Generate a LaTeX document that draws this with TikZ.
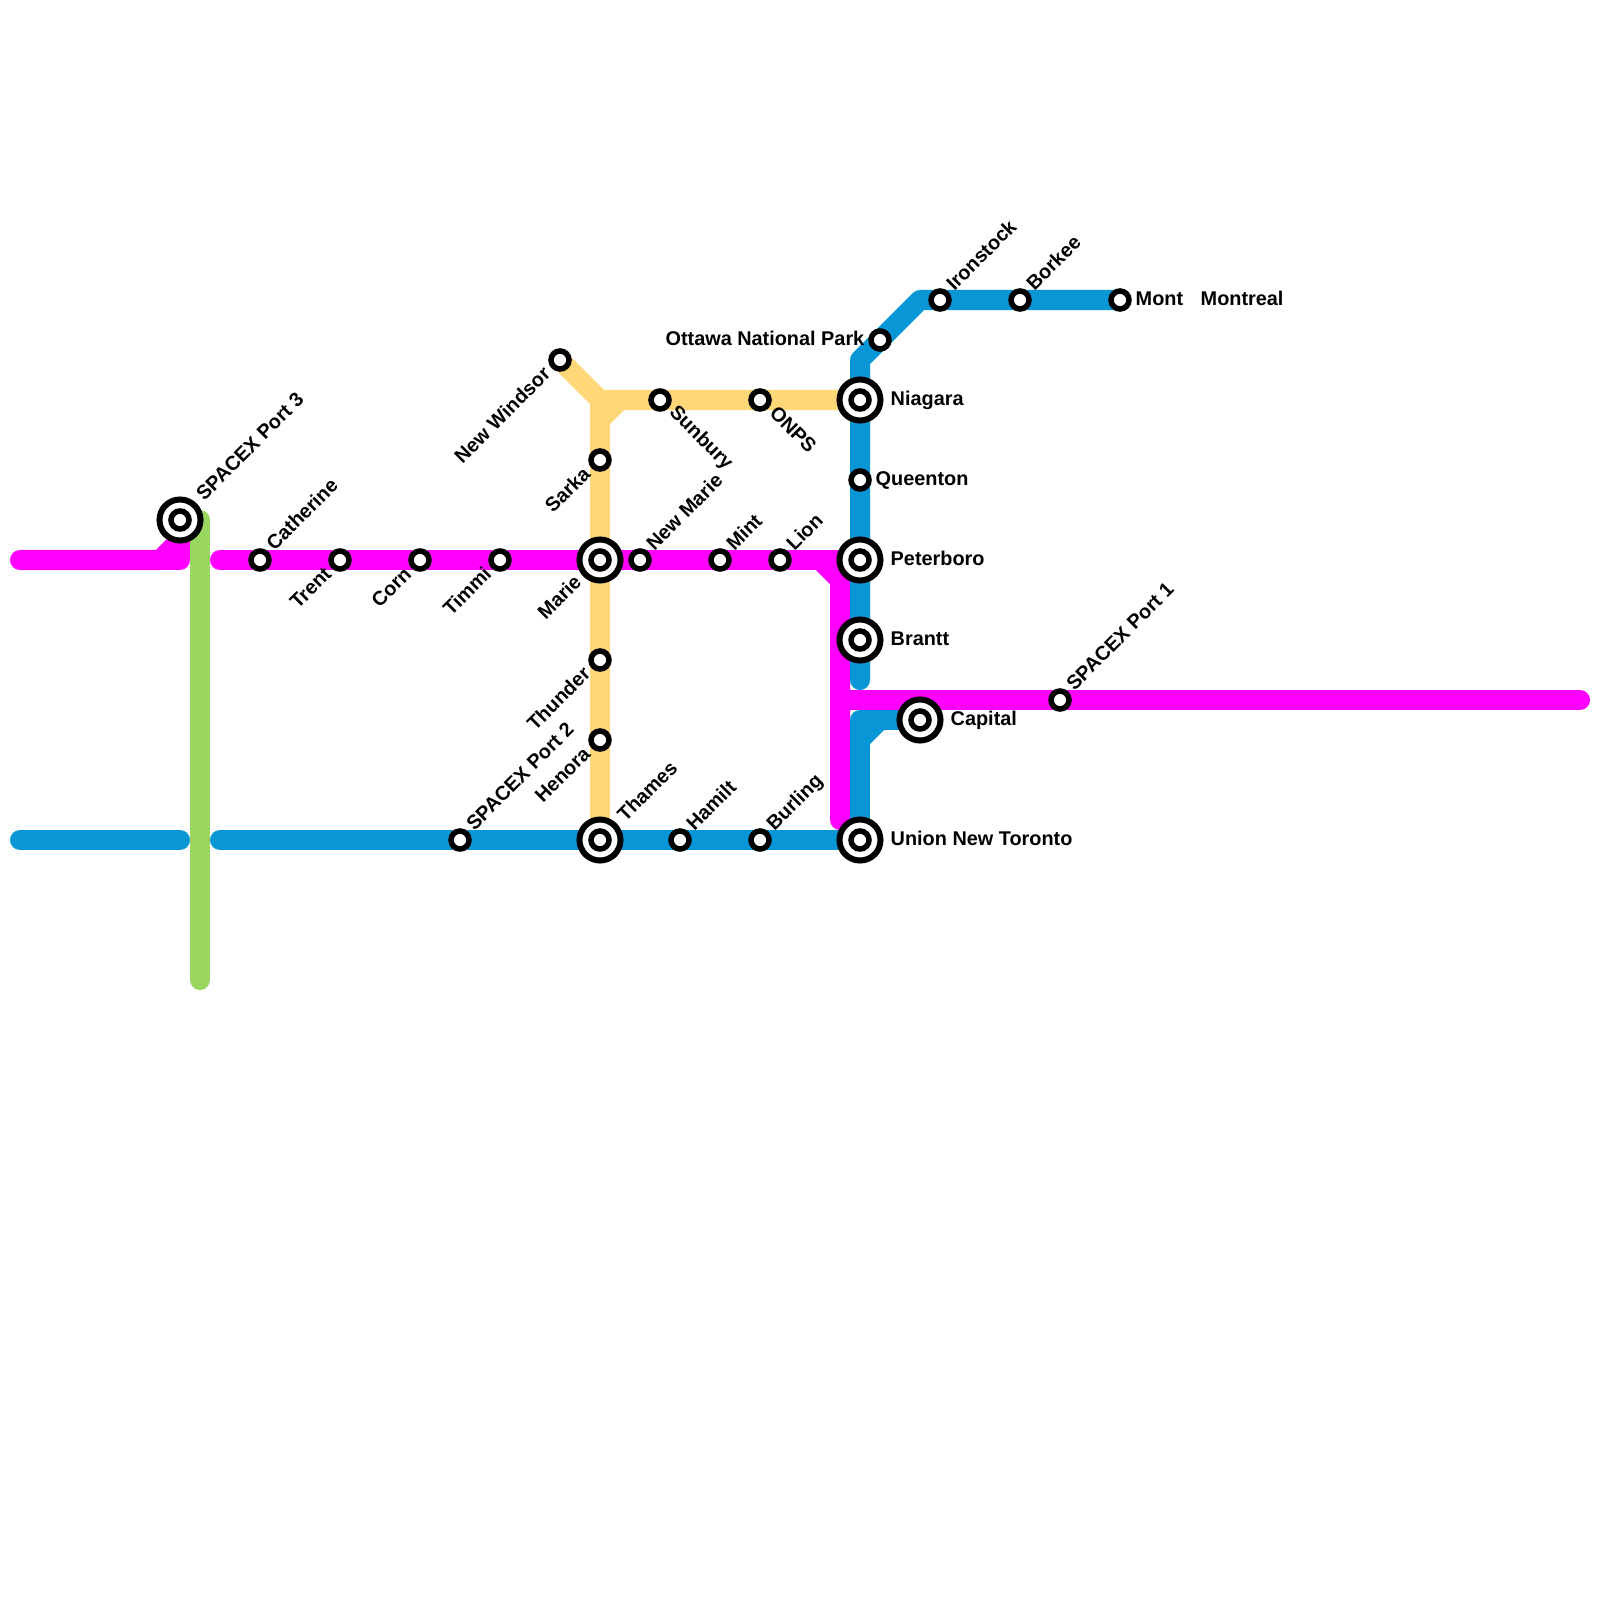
\documentclass[tikz,border=0pt]{standalone}
\usepackage{fontspec}
\setmainfont{Liberation Sans}
\usetikzlibrary{backgrounds}
\definecolor{linemag}{HTML}{FF00FF}
\definecolor{lineblue}{HTML}{0896D7}
\definecolor{lineyel}{HTML}{FFD778}
\definecolor{linegrn}{HTML}{99D65F}
\begin{document}
\begin{tikzpicture}[x=0.01cm, y=-0.01cm,
    font=\bfseries\fontsize{5.65}{7}\selectfont,
    track/.style={line width=0.2cm, line cap=round, line join=round},
    stn/.style={draw, circle, fill=white, line width=0.055cm, minimum size=0.18cm, inner sep=0pt},
    hub/.style={draw, circle, fill=white, line width=0.06cm, minimum size=0.41cm, inner sep=0pt,
        path picture={\draw[line width=0.055cm] (path picture bounding box.center) circle (0.09cm);}},
    lblne/.style={rotate=45, anchor=base west, inner sep=0pt},
    lblsw/.style={rotate=45, anchor=base east, inner sep=0pt},
    lblse/.style={rotate=-45, anchor=base west, inner sep=0pt},
    lble/.style={anchor=base west, inner sep=0pt},
    lblw/.style={anchor=base east, inner sep=0pt}]
\useasboundingbox (0,0) rectangle (1600,1600);

\node[hub] (port3) at (180,520) {};
\node[stn] (catherine) at (260,560) {};
\node[stn] (trent) at (340,560) {};
\node[stn] (corn) at (420,560) {};
\node[stn] (timmi) at (500,560) {};
\node[hub] (marie) at (600,560) {};
\node[stn] (newmarie) at (640,560) {};
\node[stn] (mint) at (720,560) {};
\node[stn] (lion) at (780,560) {};
\node[hub] (peterboro) at (860,560) {};
\node[hub] (brantt) at (860,640) {};
\node[hub] (capital) at (920,720) {};
\node[stn] (port1) at (1060,700) {};
\node[hub] (union) at (860,840) {};
\node[stn] (burling) at (760,840) {};
\node[stn] (hamilt) at (680,840) {};
\node[hub] (thames) at (600,840) {};
\node[stn] (port2) at (460,840) {};
\node[stn] (henora) at (600,740) {};
\node[stn] (thunder) at (600,660) {};
\node[stn] (sarka) at (600,460) {};
\node[stn] (windsor) at (560,360) {};
\node[stn] (sunbury) at (660,400) {};
\node[stn] (onps) at (760,400) {};
\node[hub] (niagara) at (860,400) {};
\node[stn] (queenton) at (860,480) {};
\node[stn] (ottawa) at (880,340) {};
\node[stn] (ironstock) at (940,300) {};
\node[stn] (borkee) at (1020,300) {};
\node[stn] (mont) at (1120,300) {};

\node[lblne] (port3-l) at (204,502) {SPACEX Port 3};
\node[lblne] (catherine-l) at (274,552) {Catherine};
\node[lblsw] (trent-l) at (333,575) {Trent};
\node[lblsw] (corn-l) at (413,575) {Corn};
\node[lblsw] (timmi-l) at (493,575) {Timmi};
\node[lblsw] (marie-l) at (583,583) {Marie};
\node[lblne] (newmarie-l) at (654,552) {New Marie};
\node[lblne] (mint-l) at (734,552) {Mint};
\node[lblne] (lion-l) at (794,552) {Lion};
\node[lble] (peterboro-l) at (890,565) {Peterboro};
\node[lble] (brantt-l) at (890,645) {Brantt};
\node[lble] (capital-l) at (950,725) {Capital};
\node[lblne] (port1-l) at (1074,692) {SPACEX Port 1};
\node[lble] (union-l) at (890,845) {Union New Toronto};
\node[lblne] (burling-l) at (774,832) {Burling};
\node[lblne] (hamilt-l) at (694,832) {Hamilt};
\node[lblne] (thames-l) at (625,823) {Thames};
\node[lblne] (port2-l) at (474,832) {SPACEX Port 2};
\node[lblsw] (henora-l) at (592,755) {Henora};
\node[lblsw] (thunder-l) at (592,675) {Thunder};
\node[lblsw] (sarka-l) at (592,475) {Sarka};
\node[lblsw] (windsor-l) at (552,375) {New Windsor};
\node[lblse] (sunbury-l) at (668,413) {Sunbury};
\node[lblse] (onps-l) at (768,414) {ONPS};
\node[lble] (niagara-l) at (890,405) {Niagara};
\node[lble] (queenton-l) at (875,485) {Queenton};
\node[lblw] (ottawa-l) at (865,345) {Ottawa National Park};
\node[lblne] (ironstock-l) at (954,292) {Ironstock};
\node[lblne] (borkee-l) at (1034,292) {Borkee};
\node[lble] (mont-l) at (1135,305) {Mont};
\node[lble] (montreal) at (1200,305) {Montreal};

\coordinate (magw) at (20,560);
\coordinate (magk) at (160,560);
\coordinate (magj) at (180,540);
\coordinate (magc) at (180,560);
\coordinate (mage) at (220,560);
\coordinate (magb) at (820,560);
\coordinate (magt) at (840,580);
\coordinate (magm) at (840,700);
\coordinate (mags) at (840,820);
\coordinate (magr) at (1580,700);
\coordinate (bluew) at (20,840);
\coordinate (bluec) at (180,840);
\coordinate (bluee) at (220,840);
\coordinate (bluel) at (860,720);
\coordinate (bluek) at (860,740);
\coordinate (bluej) at (880,720);
\coordinate (blueb) at (860,680);
\coordinate (bluet) at (860,360);
\coordinate (blued) at (920,300);
\coordinate (yelj) at (600,400);
\coordinate (yelk) at (600,420);
\coordinate (yeld) at (620,400);
\coordinate (grnt) at (200,520);
\coordinate (grnb) at (200,980);

\begin{scope}[on background layer]
\draw[track, lineyel] (windsor.center) -- (yelj) -- (niagara.center);
\draw[track, lineyel] (yelj) -- (thames.center);
\draw[track, lineyel] (yelk) -- (yeld);
\draw[track, linemag] (magw) -- (magk) -- (magj) -- (port3.center);
\draw[track, linemag] (magk) -- (magc) -- (magj);
\draw[track, linemag] (mage) -- (peterboro.center);
\draw[track, linemag] (magb) -- (magt) -- (mags);
\draw[track, linemag] (magm) -- (magr);
\draw[track, lineblue] (bluew) -- (bluec);
\draw[track, lineblue] (bluee) -- (union.center) -- (bluel) -- (capital.center);
\draw[track, lineblue] (bluek) -- (bluej);
\draw[track, lineblue] (blueb) -- (bluet) -- (blued) -- (mont.center);
\draw[track, linegrn] (grnt) -- (grnb);
\end{scope}
\end{tikzpicture}
\end{document}
